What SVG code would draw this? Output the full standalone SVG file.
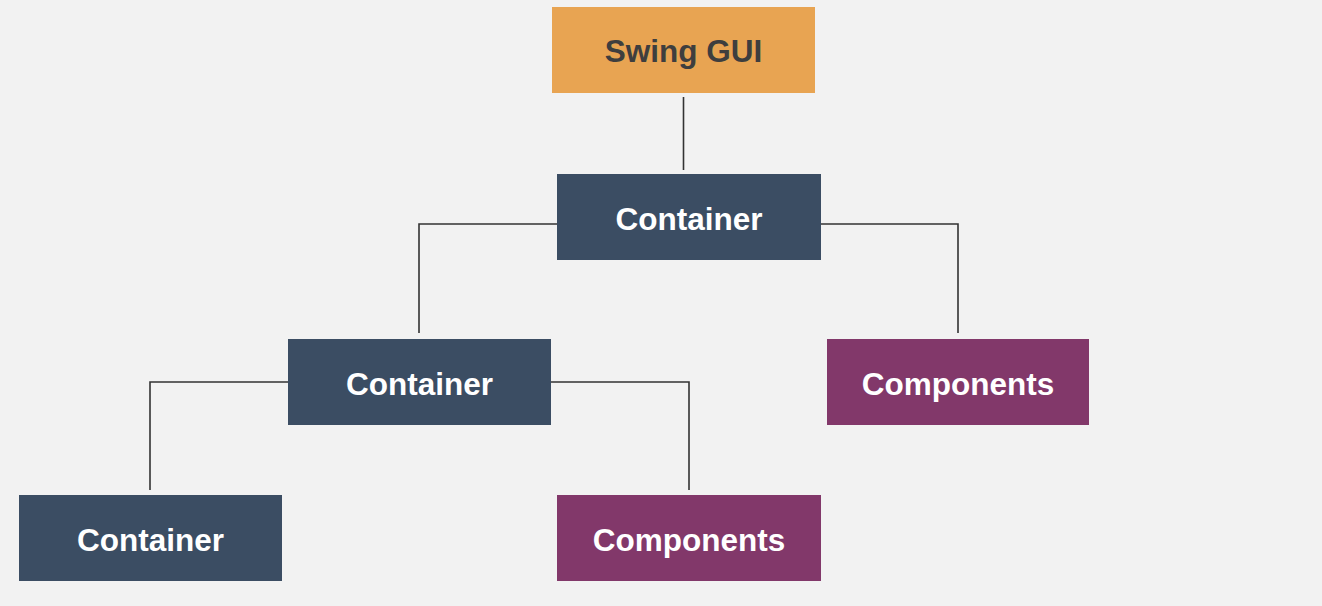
<svg xmlns="http://www.w3.org/2000/svg" width="1322" height="606" viewBox="0 0 1322 606">
<style>
.lbl{font-family:"Liberation Sans",Arial,Helvetica,sans-serif;font-weight:bold;font-size:31.5px;text-anchor:middle}
.w{fill:#ffffff}
.d{fill:#3e3e3e}
.cont{fill:#3b4d63}
.comp{fill:#82386a}
.gui{fill:#e8a452}
.conn{fill:none;stroke:#333333;stroke-width:1.6}
</style>
<rect width="1322" height="606" fill="#f2f2f2"/>
<g id="connectors">
<path class="conn" d="M683.5,97 V170"/>
<path class="conn" d="M557,224 H419 V333"/>
<path class="conn" d="M821,224 H958 V333"/>
<path class="conn" d="M288,382 H150 V490"/>
<path class="conn" d="M551,382 H689 V490"/>
</g>
<g id="swing-gui">
<rect class="gui" x="552" y="7" width="263" height="86"/>
<text class="lbl d" x="683.5" y="62">Swing GUI</text>
</g>
<g id="container-1">
<rect class="cont" x="557" y="174" width="264" height="86"/>
<text class="lbl w" x="689" y="230">Container</text>
</g>
<g id="container-2">
<rect class="cont" x="288" y="339" width="263" height="86"/>
<text class="lbl w" x="419.5" y="395">Container</text>
</g>
<g id="components-1">
<rect class="comp" x="827" y="339" width="262" height="86"/>
<text class="lbl w" x="958" y="395">Components</text>
</g>
<g id="container-3">
<rect class="cont" x="19" y="495" width="263" height="86"/>
<text class="lbl w" x="150.5" y="551">Container</text>
</g>
<g id="components-2">
<rect class="comp" x="557" y="495" width="264" height="86"/>
<text class="lbl w" x="689" y="551">Components</text>
</g>
</svg>
